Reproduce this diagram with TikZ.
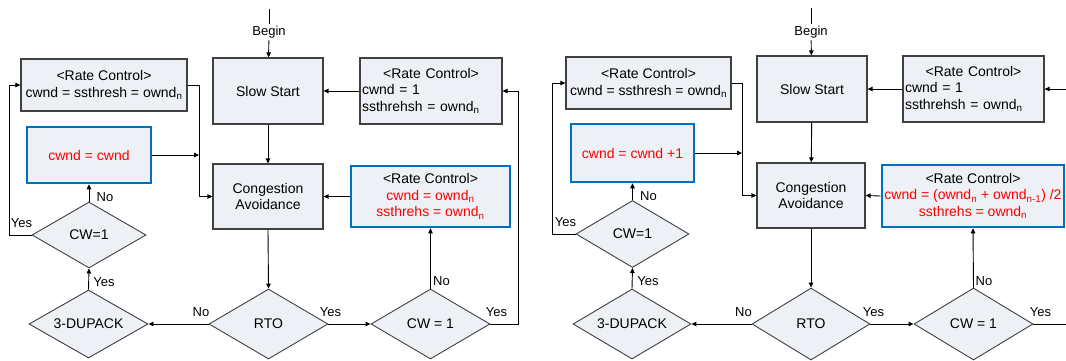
\documentclass[tikz,border=0pt]{standalone}
\usepackage{fontspec}
\setmainfont{Liberation Sans}
\usetikzlibrary{shapes.geometric,arrows.meta}
\definecolor{boxfill}{RGB}{237,240,245}
\definecolor{boxline}{RGB}{64,64,64}
\definecolor{bluel}{RGB}{0,112,192}
\definecolor{redt}{RGB}{255,0,0}
\begin{document}
\begin{tikzpicture}[x=1pt,y=-1pt,
  every node/.style={font=\fontsize{14}{16.5}\selectfont},
  box/.style={draw=boxline, line width=1.2pt, fill=boxfill, inner sep=1pt, align=center},
  bbox/.style={draw=bluel, line width=2.6pt, fill=boxfill, inner sep=1pt, align=center},
  dia/.style={diamond, aspect=1.7, draw=boxline, line width=0.9pt, fill=boxfill, inner sep=0pt},
  arr/.style={-{Triangle[length=5pt,width=4.5pt]}, line width=0.9pt},
  ln/.style={line width=0.9pt},
  lbl/.style={font=\fontsize{13}{15}\selectfont, inner sep=0pt},
  beg/.style={font=\fontsize{13}{15}\selectfont, inner sep=2pt},
]
\useasboundingbox (0,0) rectangle (1066,360);

% ================= LEFT PANEL =================
\node[box, minimum width=166pt, minimum height=52pt] (rc1) at (104,85)
  {<Rate Control>\\cwnd = ssthresh = ownd\textsubscript{n}};
\node[box, minimum width=110pt, minimum height=66pt] (ss1) at (268,91) {Slow Start};
\node[box, minimum width=142pt, minimum height=66pt, align=left, text width=138pt] (rc2) at (431,91)
  {\makebox[138pt]{<Rate Control>}\\cwnd = 1\\ssthrehsh = ownd\textsubscript{n}};
\node[bbox, minimum width=124pt, minimum height=56pt] (bb1) at (89,155)
  {\textcolor{redt}{cwnd = cwnd}};
\node[box, minimum width=110pt, minimum height=65pt] (ca1) at (268,196.5) {Congestion\\Avoidance};
\node[bbox, minimum width=159pt, minimum height=61pt] (bb2) at (430.5,196.5)
  {<Rate Control>\\\textcolor{redt}{cwnd = ownd\textsubscript{n}}\\\textcolor{redt}{ssthrehs = ownd\textsubscript{n}}};
\node[dia, minimum width=114pt, minimum height=66pt] (cwL1) at (89,235) {CW=1};
\node[dia, minimum width=119pt, minimum height=70pt] (rto1) at (268.5,324) {RTO};
\node[dia, minimum width=119pt, minimum height=70pt] (cwR1) at (430.5,324) {CW = 1};
\node[dia, minimum width=119pt, minimum height=68pt] (dup1) at (88.5,324) {3-DUPACK};

\coordinate (top1) at (269,9);
\node[beg] (begin1) at (269,32) {Begin};
\coordinate (j1) at (199,0);

\draw[ln] (top1) -- (begin1);
\draw[arr] (begin1) -- (ss1);
\draw[arr] (ss1) -- (ca1);
\draw[arr] (rc2.west) -- (ss1.east);
\draw[arr] (rc1.east) -- (rc1.east -| j1) |- (ca1.west);
\draw[arr] (bb1.east) -- (bb1.east -| j1);
\draw[arr] (bb2.west) -- (ca1.east);
\draw[arr] (ca1.south) -- (rto1.north);
\draw[arr] (rto1.east) -- (cwR1.west);
\draw[arr] (rto1.west) -- (dup1.east);
\draw[arr] (dup1.north) -- (cwL1.south);
\draw[arr] (cwL1.north) -- (bb1.south);
\draw[arr] (cwL1.west) -- ++(-22,0) |- (rc1.west);
\draw[arr] (cwR1.north) -- (bb2.south);
\draw[arr] (cwR1.east) -- ++(28,0) |- (rc2.east);

\node[lbl] (y1) at (21.5,223) {Yes};
\node[lbl] (n1) at (105,197) {No};
\node[lbl] (y2) at (104,282) {Yes};
\node[lbl] (n2) at (201,312) {No};
\node[lbl] (y3) at (330.5,312) {Yes};
\node[lbl] (n3) at (441.5,281) {No};
\node[lbl] (y4) at (496.5,312) {Yes};

% ================= RIGHT PANEL =================
\node[box, minimum width=165pt, minimum height=52pt] (rc1R) at (648.5,83)
  {<Rate Control>\\cwnd = ssthresh = ownd\textsubscript{n}};
\node[box, minimum width=110pt, minimum height=66pt] (ss2) at (812,89) {Slow Start};
\node[box, minimum width=141pt, minimum height=66pt, align=left, text width=137pt] (rc2R) at (973.5,89)
  {\makebox[137pt]{<Rate Control>}\\cwnd = 1\\ssthrehsh = ownd\textsubscript{n}};
\node[bbox, minimum width=123pt, minimum height=58pt] (bb1R) at (632.5,153)
  {\textcolor{redt}{cwnd = cwnd +1}};
\node[box, minimum width=108pt, minimum height=65pt] (caR) at (811,195.5) {Congestion\\Avoidance};
\node[bbox, minimum width=182pt, minimum height=62pt] (bb2R) at (973,196)
  {<Rate Control>\\\textcolor{redt}{cwnd = (ownd\textsubscript{n} + ownd\textsubscript{n-1}) /2}\\\textcolor{redt}{ssthrehs = ownd\textsubscript{n}}};
\node[dia, minimum width=113pt, minimum height=67pt] (cwL2) at (632.5,234) {CW=1};
\node[dia, minimum width=118pt, minimum height=72pt] (rto2) at (811,324) {RTO};
\node[dia, minimum width=119pt, minimum height=72pt] (cwR2) at (973.5,324) {CW = 1};
\node[dia, minimum width=118pt, minimum height=70pt] (dup2) at (632,324) {3-DUPACK};

\coordinate (top2) at (811,8);
\node[beg] (begin2) at (811,32) {Begin};
\coordinate (j2) at (742,0);
\coordinate (eTop) at (1066,89);
\coordinate (eBot) at (1066,324);

\draw[ln] (top2) -- (begin2);
\draw[arr] (begin2) -- (ss2);
\draw[arr] (ss2) -- (caR);
\draw[arr] (rc2R.west) -- (ss2.east);
\draw[arr] (rc1R.east) -- (rc1R.east -| j2) |- (caR.west);
\draw[arr] (bb1R.east) -- (bb1R.east -| j2);
\draw[arr] (bb2R.west) -- (caR.east);
\draw[arr] (caR.south) -- (rto2.north);
\draw[arr] (rto2.east) -- (cwR2.west);
\draw[arr] (rto2.west) -- (dup2.east);
\draw[arr] (dup2.north) -- (cwL2.south);
\draw[arr] (cwL2.north) -- (bb1R.south);
\draw[arr] (cwL2.west) -- ++(-23,0) |- (rc1R.west);
\draw[arr] (cwR2.north) -- (bb2R.south);
\draw[ln] (cwR2.east) -- (eBot);
\draw[arr] (eTop) -- (rc2R.east);

\node[lbl] (y1R) at (565.5,222) {Yes};
\node[lbl] (n1R) at (648.5,196) {No};
\node[lbl] (y2R) at (648,281) {Yes};
\node[lbl] (n2R) at (743.5,312) {No};
\node[lbl] (y3R) at (873.5,312) {Yes};
\node[lbl] (n3R) at (984,281) {No};
\node[lbl] (y4R) at (1040.5,312) {Yes};
\end{tikzpicture}
\end{document}
